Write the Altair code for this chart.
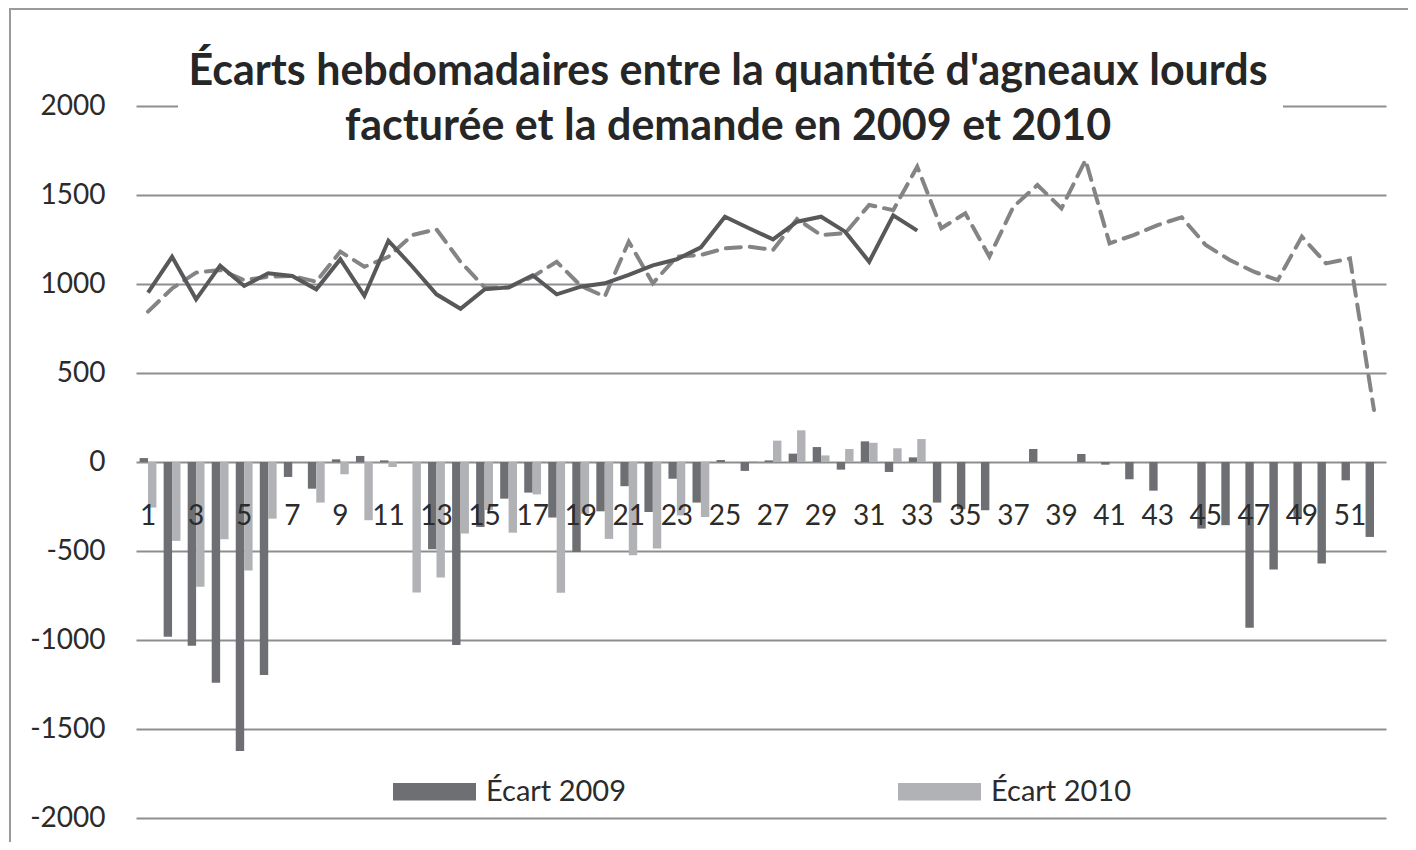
import altair as alt
import pandas as pd

weeks = list(range(1, 53))

ecart_2009 = [22, -982, -1032, -1240, -1623, -1197, -84, -150, 15, 34,
              9, 0, -490, -1028, -365, -206, -172, -312, -506, -277,
              -136, -281, -94, -228, 11, -50, 9, 47, 84, -43,
              116, -56, 26, -228, -265, -271, 0, 73, 0, 45,
              -15, -97, -161, 0, -374, -355, -931, -604, -320, -570,
              -103, -421]

ecart_2010 = [-256, -443, -701, -434, -610, -318, 0, -228, -69, -327,
              -28, -733, -649, -402, -270, -397, -182, -735, -290, -432,
              -524, -486, -300, -309, 0, 5, 120, 178, 37, 73,
              108, 77, 129]

ligne_2010 = [951, 1153, 914, 1103, 989, 1060, 1045, 970, 1139, 933,
              1243, 1097, 942, 861, 970, 981, 1049, 942, 985, 1004,
              1051, 1105, 1139, 1206, 1378, 1313, 1251, 1350, 1378, 1294,
              1125, 1386, 1300]

ligne_2009 = [845, 975, 1064, 1079, 1022, 1041, 1045, 1013, 1182, 1097,
              1153, 1275, 1307, 1125, 981, 981, 1041, 1125, 990, 929,
              1238, 1004, 1154, 1163, 1200, 1210, 1191, 1365, 1275, 1285,
              1444, 1415, 1659, 1313, 1397, 1154, 1434, 1556, 1425, 1697,
              1228, 1275, 1331, 1375, 1219, 1135, 1069, 1022, 1266, 1116,
              1144, 292]

series_names = ["Écart 2009", "Écart 2010"]
title_lines = ["Écarts hebdomadaires entre la quantité d'agneaux lourds",
               "facturée et la demande en 2009 et 2010"]

FONT = "Lato"
TXT = "#2b2b2b"

bars = pd.DataFrame(
    [{"semaine": w, "serie": series_names[0], "ecart": v} for w, v in zip(weeks, ecart_2009)]
    + [{"semaine": w, "serie": series_names[1], "ecart": v} for w, v in zip(weeks, ecart_2010)]
)
l09 = pd.DataFrame({"semaine": weeks[:len(ligne_2009)], "valeur": ligne_2009})
l10 = pd.DataFrame({"semaine": weeks[:len(ligne_2010)], "valeur": ligne_2010})

W, H = 1250, 712

xscale = alt.Scale(domain=weeks, paddingInner=0.3, paddingOuter=0.15)
yscale = alt.Scale(domain=[-2000, 2000])

x_axis = alt.Axis(
    orient="bottom", offset=-H / 2, labelPadding=40, labelAngle=0,
    labelExpr="datum.value % 2 == 1 ? datum.value : ''",
    labelOverlap=False, labelFontSize=28, labelFont=FONT, labelColor=TXT,
    domain=False, ticks=False, grid=False, title=None, zindex=1,
)
y_axis = alt.Axis(
    values=list(range(-2000, 2001, 500)), labelExpr="'' + datum.value",
    labelFontSize=28, labelFont=FONT,
    labelColor=TXT, labelPadding=31, domain=False, ticks=False,
    grid=True, gridColor="#8e8e90", gridWidth=2, title=None,
)

bar_layer = alt.Chart(bars).mark_bar().encode(
    x=alt.X("semaine:O", scale=xscale, axis=x_axis),
    xOffset=alt.XOffset("serie:N", scale=alt.Scale(domain=series_names, paddingInner=0, paddingOuter=0)),
    y=alt.Y("ecart:Q", scale=yscale, axis=y_axis),
    color=alt.Color(
        "serie:N",
        scale=alt.Scale(domain=series_names, range=["#6e6f73", "#b1b2b5"]),
        legend=alt.Legend(
            title=None, orient="none", direction="horizontal",
            legendX=257, legendY=644, padding=0,
            symbolType="M-1,-0.21H1V0.21H-1Z", symbolSize=6889,
            symbolStrokeWidth=0, symbolOpacity=1,
            labelFontSize=29, labelFont=FONT, labelColor=TXT,
            labelOffset=10, columnPadding=272, labelLimit=400,
        ),
    ),
)

dash_layer = alt.Chart(l09).mark_line(
    color="#848486", strokeWidth=4, strokeDash=[15, 9], strokeCap="round"
).encode(x=alt.X("semaine:O", scale=xscale), y=alt.Y("valeur:Q", scale=yscale))

solid_layer = alt.Chart(l10).mark_line(
    color="#58585a", strokeWidth=4, strokeJoin="miter"
).encode(x=alt.X("semaine:O", scale=xscale), y=alt.Y("valeur:Q", scale=yscale))

title_mask = alt.Chart(alt.Data(values=[{"k": 1}])).mark_rect(
    fill="white"
).encode(x=alt.value(42), x2=alt.value(1147), y=alt.value(-60), y2=alt.value(40))

frame = alt.Chart(alt.Data(values=[{"k": 1}])).mark_rect(
    filled=False, stroke="#9a9a9a", strokeWidth=2
).encode(x=alt.value(-126), x2=alt.value(1500), y=alt.value(-97), y2=alt.value(900))

chart = alt.layer(bar_layer, dash_layer, solid_layer, title_mask, frame).properties(
    width=W, height=H,
    autosize="none",
    padding={"left": 128, "top": 98, "right": 22, "bottom": 24},
    title=alt.TitleParams(
        text=title_lines, fontSize=43, font=FONT, fontWeight="bold", color="#262626",
        lineHeight=55, anchor="middle", offset=-141, dx=-33,
    ),
).configure_view(stroke=None)

chart.save("out.html", embed_options={"renderer": "svg", "actions": False})
